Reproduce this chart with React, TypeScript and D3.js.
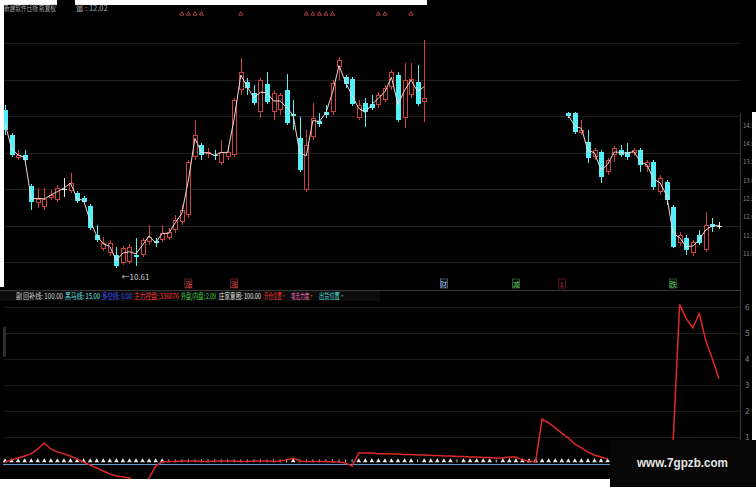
import React, { useLayoutEffect, useRef } from "react";
import * as d3 from "d3";

const W = 756;
const H = 487;

// ---- main panel candles (left segment 65 days, gap of 21 slots, right segment 24 days)
const LEFT_COUNT = 65;
const GAP_SLOTS = 21;

const opens = [
  14.91, 14.23, 13.6, 13.69, 12.84, 12.38, 12.27, 12.51, 12.46, 12.76, 12.71, 12.65, 12.51, 12.3, 11.51, 11.12, 11.02, 10.96, 10.74, 10.77,
  10.96, 10.96, 11.32, 11.34, 11.37, 11.42, 11.64, 11.86, 12.05, 13.63, 13.96, 13.71, 13.69, 13.47, 13.63, 13.69, 15.46, 15.68, 15.38, 14.86,
  15.62, 14.86, 14.91, 15.46, 14.8, 14.15, 12.73, 14.18, 14.61, 14.86, 14.86, 16.08, 15.81, 15.76, 14.69, 15.1, 15.08, 15.05, 15.19, 15.54,
  15.87, 14.69, 15.32, 15.68, 15.13,
  14.83, 14.83, 14.29, 14.04, 13.63, 13.77, 13.22, 13.69, 13.82, 13.77, 13.74, 13.82, 13.36, 13.5, 12.68, 12.95, 12.27, 11.29, 11.42, 11.02,
  11.51, 11.1, 11.81, 11.76,
];
const highs = [
  15.05, 14.29, 13.82, 13.82, 12.9, 12.79, 12.79, 12.73, 12.87, 13.06, 13.2, 12.71, 12.57, 12.35, 11.78, 11.45, 11.37, 11.18, 11.21, 11.26,
  11.42, 11.42, 11.78, 11.42, 11.78, 11.7, 12.05, 12.32, 13.55, 14.64, 14.01, 13.88, 13.82, 14.09, 13.96, 15.24, 16.33, 15.78, 15.59, 15.78,
  15.95, 15.46, 15.38, 15.89, 15.19, 14.72, 14.37, 15.1, 14.83, 15.05, 15.73, 16.36, 15.87, 15.81, 15.19, 15.24, 15.32, 15.4, 15.59, 16.0,
  15.95, 16.19, 16.19, 16.14, 16.82,
  14.86, 14.86, 14.64, 14.37, 13.88, 13.82, 13.6, 13.93, 13.96, 14.01, 13.88, 13.88, 13.55, 13.55, 13.14, 13.01, 12.32, 11.59, 11.51, 11.37,
  11.64, 12.13, 11.97, 11.86,
];
const lows = [
  14.23, 13.63, 13.55, 13.5, 12.19, 12.24, 12.19, 12.46, 12.41, 12.54, 12.65, 12.38, 12.35, 11.64, 11.32, 11.07, 10.93, 10.61, 10.69, 10.72,
  10.66, 10.91, 11.23, 11.18, 11.32, 11.37, 11.56, 11.78, 11.97, 13.55, 13.55, 13.6, 13.55, 13.41, 13.55, 13.63, 15.32, 15.32, 15.05, 14.69,
  15.08, 14.64, 14.78, 14.5, 14.37, 13.22, 12.68, 14.09, 14.45, 14.69, 14.78, 15.73, 15.51, 15.02, 14.64, 14.45, 14.91, 14.97, 15.13, 15.46,
  14.59, 14.42, 15.24, 15.02, 14.59,
  14.69, 14.26, 14.23, 13.47, 13.55, 12.92, 13.14, 13.5, 13.63, 13.55, 13.66, 13.22, 13.22, 12.73, 12.6, 12.32, 11.15, 11.21, 10.96, 10.93,
  11.23, 11.04, 11.59, 11.67,
];
const closes = [
  14.37, 13.69, 13.69, 13.55, 12.41, 12.49, 12.49, 12.6, 12.79, 12.76, 12.92, 12.43, 12.41, 11.7, 11.37, 11.29, 11.29, 10.66, 11.15, 11.18,
  10.91, 11.37, 11.45, 11.29, 11.56, 11.59, 11.92, 12.19, 13.5, 14.23, 13.69, 13.77, 13.66, 13.77, 13.77, 15.19, 15.95, 15.51, 15.1, 15.73,
  15.13, 15.38, 15.32, 14.56, 14.75, 13.28, 13.96, 14.69, 14.53, 14.78, 15.65, 16.28, 15.62, 15.08, 15.05, 14.86, 14.97, 15.32, 15.51, 15.95,
  14.64, 15.73, 15.76, 15.08, 15.24,
  14.75, 14.31, 14.37, 13.6, 13.82, 13.09, 13.55, 13.88, 13.69, 13.63, 13.82, 13.41, 13.5, 12.81, 13.06, 12.46, 11.18, 11.51, 11.1, 11.32,
  11.29, 11.78, 11.72, 11.76,
];

// ---- sub panel indicator (left segment starts at slot 0, right segment starts at slot 102)
const indLeft = [
  0.04, 0.12, 0.19, 0.27, 0.35, 0.54, 0.77, 0.54, 0.42, 0.35, 0.27, 0.15, 0.04, -0.08, -0.19, -0.31, -0.42, -0.5, -0.54, -0.58,
  -0.77, -0.92, -0.58, -0.12, 0.04,
  0.06, 0.06, 0.08, 0.08, 0.08, 0.06, 0.06, 0.08, 0.08, 0.08, 0.08, 0.06, 0.06, 0.08, 0.08, 0.08, 0.06, 0.08, 0.12,
  0.19,
  0.08, 0.06, 0.06, 0.06, 0.06, 0.04, 0.04,
  0.0, -0.12,
  0.38, 0.38, 0.38, 0.36, 0.36, 0.35, 0.35, 0.33, 0.33, 0.31, 0.31, 0.29, 0.29, 0.27, 0.27, 0.25, 0.25, 0.23, 0.23, 0.21, 0.21, 0.19, 0.19,
  0.23, 0.23, 0.12, 0.08, 0.04,
  1.69, 1.54, 1.35, 1.15, 0.96, 0.73, 0.58, 0.42, 0.31, 0.23, 0.15,
];
// zero-line signal per slot: T = triangle, t = small tick
const zeroSignals =
  "TTTTTTTTTTTTTTTTTTTTTTTTT" +
  "tttttttttttttttttttTttttttttt" +
  "TTTTTTTTTtTTTTTtTTTTTtTTTTTTT" +
  "TTTTTTTTTT";
const IND_RIGHT_START = 102;
const indRight = [0.8, 6.1, 5.55, 5.2, 5.75, 4.7, 4.0, 3.25];
const subTicks = [1, 2, 3, 4, 5, 6];
const priceTicks = [11, 11.5, 12, 12.5, 13, 13.5, 14, 14.5];

// signal markers
const topSignalSlots = [27, 28, 29, 30, 36, 46, 47, 48, 49, 50, 57, 58, 62];
const boxSignals = [
  { slot: 28, ch: "涨", color: "#e05050" },
  { slot: 35, ch: "涨", color: "#e05050" },
  { slot: 67, ch: "财", color: "#9fc8ff" },
  { slot: 78, ch: "减", color: "#60d060" },
  { slot: 85, ch: "1", color: "#e03030" },
  { slot: 102, ch: "跌", color: "#60d060" },
];

const legend = [
  { t: "副", x: 16, w: 6, c: "#d8d8d8" },
  { t: "回补线: 100.00", x: 23, w: 40, c: "#d8d8d8" },
  { t: "黑马线: 15.00", x: 65, w: 35, c: "#5ce0e0" },
  { t: "多空线: 0.00", x: 102, w: 30, c: "#3050ff" },
  { t: "主力控盘: 336076", x: 134, w: 45, c: "#ff3030" },
  { t: "外盘/内盘: 2.09", x: 181, w: 35, c: "#40d040" },
  { t: "庄家意图: 100.00", x: 219, w: 42, c: "#e8e8e8" },
  { t: "开仓位置·", x: 264, w: 22, c: "#ff3030" },
  { t: "攻击力度·", x: 291, w: 23, c: "#ff70b0" },
  { t: "出货位置·", x: 319, w: 26, c: "#50e0e0" },
];

const RED = "#cc4040";
const CYAN = "#54f0f8";
const FONT = "'Noto Sans CJK SC', 'DejaVu Sans', sans-serif";

export default function App() {
  const legendRef = useRef<SVGGElement>(null);

  useLayoutEffect(() => {
    const g = legendRef.current;
    if (!g) return;
    g.querySelectorAll("text").forEach((t) => {
      const w = Number(t.getAttribute("data-w"));
      const x0 = Number(t.getAttribute("data-x"));
      const nat = (t as SVGTextElement).getComputedTextLength();
      if (nat > 0) t.setAttribute("transform", `translate(${x0},299) scale(${(w / nat).toFixed(3)},1)`);
    });
  }, []);

  const x = d3.scaleLinear().domain([0, 109]).range([5, 5 + 6.55 * 109]);
  const yP = d3.scaleLinear().domain([10.61, 16.33]).range([268, 58]);
  const yI = d3.scaleLinear().domain([0, 6]).range([463, 307]);
  const slotOf = (k: number) => (k < LEFT_COUNT ? k : k + GAP_SLOTS);
  const px = (s: number) => Math.round(x(s)) + 0.5;

  const candles = opens.map((o, k) => ({
    k,
    slot: slotOf(k),
    o,
    h: highs[k],
    l: lows[k],
    c: closes[k],
  }));

  const tp = (d: any) => (d.h + d.l + d.c) / 3;
  const lineP = d3
    .line<any>()
    .x((d) => x(d.slot))
    .y((d) => yP(tp(d)));
  const segL = candles.slice(0, LEFT_COUNT);
  const segR = candles.slice(LEFT_COUNT);

  const lineI = d3
    .line<[number, number]>()
    .x((d) => x(d[0]))
    .y((d) => yI(d[1]));
  const indLPts = indLeft.map((v, i) => [i, v] as [number, number]);
  const indRPts = indRight.map((v, i) => [IND_RIGHT_START + i, v] as [number, number]);

  let minK = 0;
  candles.forEach((d, k) => {
    if (d.l < candles[minK].l) minK = k;
  });

  const gridY = d3.range(7).map((k) => 43 + k * 36.5);
  const tri = d3.symbol(d3.symbolTriangle, 9)() as string;
  const triSmall = d3.symbol(d3.symbolTriangle, 7)() as string;
  const zy = yI(0.08);

  return (
    <svg
      width={W}
      height={H}
      style={{ position: "fixed", left: 0, top: 0, display: "block" }}
      fontFamily={FONT}
    >
      <rect x={0} y={0} width={W} height={H} fill="#000" />

      {gridY.map((gy, i) => (
        <line key={"g" + i} x1={4} x2={740} y1={Math.round(gy) + 0.5} y2={Math.round(gy) + 0.5} stroke="#222" />
      ))}
      {subTicks.map((t) => (
        <line key={"gl" + t} x1={4} x2={740} y1={Math.round(yI(t)) + 0.5} y2={Math.round(yI(t)) + 0.5} stroke="#1c1c1c" />
      ))}
      <line x1={0} x2={740} y1={290.5} y2={290.5} stroke="#3a3a3a" />
      <line x1={740.5} x2={740.5} y1={113} y2={440} stroke="#3a3a3a" />

      {priceTicks.map((p) => (
        <text key={"pt" + p} x={743} y={yP(p) + 2.5} fontSize={6} fill="#888">
          {p.toFixed(1)}
        </text>
      ))}
      {subTicks.map((t) => (
        <text key={"st" + t} x={745} y={yI(t) + 3} fontSize={8} fill="#888">
          {t}
        </text>
      ))}

      {candles.map((d) => {
        const cx = px(d.slot);
        const doji = Math.abs(d.c - d.o) < 0.005;
        const up = d.c > d.o;
        const top = Math.round(yP(Math.max(d.o, d.c)));
        const bot = Math.round(yP(Math.min(d.o, d.c)));
        const hy = Math.round(yP(d.h));
        const ly = Math.round(yP(d.l));
        if (doji) {
          return (
            <g key={"c" + d.k} stroke="#e8e8e8">
              <line x1={cx} x2={cx} y1={hy} y2={ly} />
              <line x1={cx - 2.5} x2={cx + 2.5} y1={top + 0.5} y2={top + 0.5} />
            </g>
          );
        }
        if (up) {
          return (
            <g key={"c" + d.k} stroke={RED}>
              <line x1={cx} x2={cx} y1={hy} y2={top} />
              <line x1={cx} x2={cx} y1={bot} y2={ly} />
              <rect x={cx - 2} y={top + 0.5} width={4} height={Math.max(bot - top - 1, 1)} fill="#000" />
            </g>
          );
        }
        return (
          <g key={"c" + d.k}>
            <line x1={cx} x2={cx} y1={hy} y2={ly} stroke={CYAN} />
            <rect x={cx - 2.5} y={top} width={5} height={Math.max(bot - top, 1)} fill={CYAN} />
          </g>
        );
      })}
      <path d={lineP(segL) || ""} fill="none" stroke="#f2d6d6" strokeWidth={1} />
      <path d={lineP(segR) || ""} fill="none" stroke="#f2d6d6" strokeWidth={1} />

      <text x={px(candles[minK].slot) + 5} y={280} fontSize={8} fill="#d0d0d0">
        {"←" + candles[minK].l.toFixed(2)}
      </text>

      {topSignalSlots.map((s) => (
        <path key={"ts" + s} d={triSmall} transform={`translate(${x(s)},14)`} fill="none" stroke="#d05050" strokeWidth={0.8} />
      ))}

      {boxSignals.map((b) => (
        <g key={"bs" + b.slot}>
          <rect x={x(b.slot) - 3.5} y={279} width={7} height={9} fill="none" stroke={b.color} strokeWidth={0.6} opacity={0.7} />
          <text x={x(b.slot)} y={286.5} fontSize={7} fill={b.color} textAnchor="middle">
            {b.ch}
          </text>
        </g>
      ))}

      <rect x={0} y={291} width={380} height={10} fill="#0c0c0c" />
      <g ref={legendRef}>
        {legend.map((l) => (
          <text
            key={l.t}
            data-w={l.w}
            data-x={l.x}
            transform={`translate(${l.x},299)`}
            fontSize={8}
            fill={l.c}
          >
            {l.t}
          </text>
        ))}
      </g>
      <rect x={3} y={327} width={3} height={30} fill="#2e2e2e" />

      <line x1={3} x2={610} y1={yI(-0.06)} y2={yI(-0.06)} stroke="#5fa5d5" strokeWidth={1} />
      {zeroSignals.split("").map((s, i) =>
        s === "T" ? (
          <path key={"tr" + i} d={tri} transform={`translate(${x(i)},${zy})`} fill="#f0f0f0" />
        ) : (
          <line key={"tr" + i} x1={x(i)} x2={x(i)} y1={zy - 1.5} y2={zy + 1.5} stroke="#b8c8e0" strokeWidth={1} />
        )
      )}

      <path d={lineI(indLPts) || ""} fill="none" stroke="#e02828" strokeWidth={1.5} />
      <path d={lineI(indRPts) || ""} fill="none" stroke="#e02828" strokeWidth={1.5} />

      <rect x={0} y={0} width={427} height={5} fill="#fff" />
      <rect x={0} y={0} width={4} height={287} fill="#fff" />
      <rect x={57} y={0} width={18} height={12} fill="#000" />
      <text x={4} y={11} fontSize={7.5} fill="#a8a8a8" textLength={52} lengthAdjust="spacingAndGlyphs">
        新建软件日线 前复权
      </text>
      <text x={76} y={11} fontSize={7.5} fill="#a8a8a8">
        量 : 12.02
      </text>

      <rect x={752} y={112} width={4} height={328} fill="#fff" />
      <rect x={0} y={479} width={610} height={8} fill="#fff" />
      <rect x={610} y={440} width={146} height={47} fill="#060606" />
      <text x={637} y={467} fontSize={13} fontWeight="bold" fill="#e6e6e6" fontFamily="'Liberation Sans', Arial, sans-serif" textLength={91} lengthAdjust="spacingAndGlyphs">
        www.7gpzb.com
      </text>
    </svg>
  );
}
